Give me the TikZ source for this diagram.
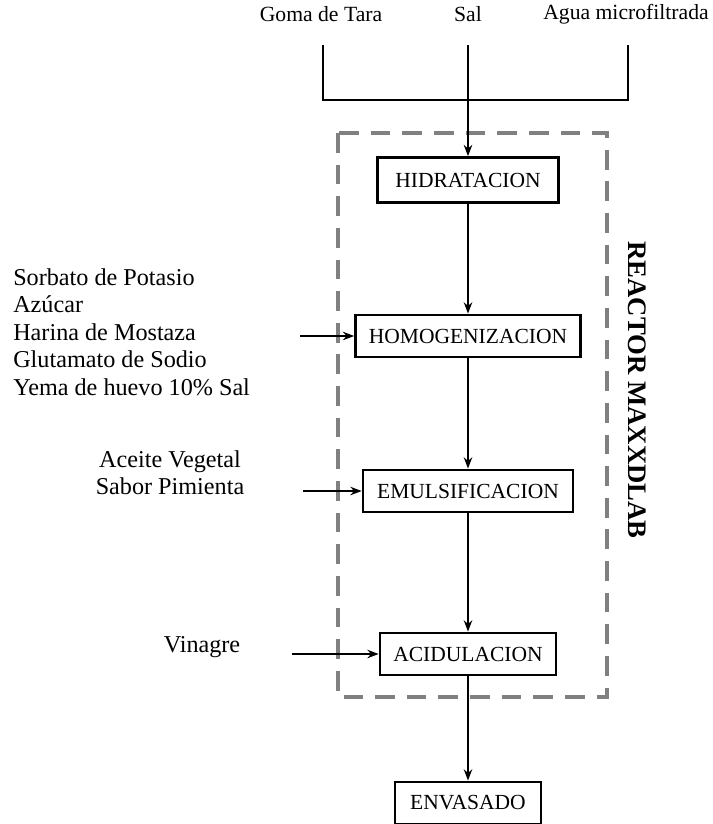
\documentclass[tikz,border=0pt]{standalone}
\usepackage{fontspec}
\setmainfont{Liberation Serif}
\usetikzlibrary{arrows.meta}

\begin{document}
\begin{tikzpicture}[x=0.025cm, y=-0.025cm,
    >={Stealth[length=8pt,width=6pt]},
    lbl/.style={font=\fontsize{17.2}{19.5}\selectfont, inner sep=0pt},
    toplbl/.style={font=\fontsize{15.4}{18}\selectfont, inner sep=0pt},
    proc/.style={draw, line width=1.9pt, inner xsep=2pt, minimum height=30pt,
                 font=\fontsize{15.3}{18}\selectfont},
    flow/.style={line width=1.3pt},
    reactorbox/.style={draw=black!50, line width=2.4pt, dash pattern=on 14pt off 8.5pt}]
      \useasboundingbox (0,0) rectangle (712,824);

      % --- reactor frame, drawn first so it sits behind the flow ---
      \draw[reactorbox] (338,133) rectangle (607,697);
      \node[font=\fontsize{19}{22}\selectfont\bfseries, rotate=-90] (reactor) at (637,390) {REACTOR MAXXDLAB};

      % --- raw materials on top ---
      \node[toplbl] (goma) at (321,14) {Goma de Tara};
      \node[toplbl] (sal)  at (468,14) {Sal};
      \node[toplbl] (agua) at (626,14) {Agua microfiltrada};
      \coordinate (gtop) at (323,45);
      \coordinate (gbot) at (323,100);
      \coordinate (stop) at (468,45);
      \coordinate (atop) at (628,45);
      \coordinate (abot) at (628,100);

      % --- process steps ---
      \node[proc, minimum width=128.7pt, minimum height=32pt] (hid) at (468,180) {HIDRATACION};
      \node[proc, minimum width=160pt] (hom) at (468,336) {HOMOGENIZACION};
      \node[proc, minimum width=149.4pt] (emu) at (468,491) {EMULSIFICACION};
      \node[proc, minimum width=125.2pt] (aci) at (468,654) {ACIDULACION};
      \node[proc, minimum width=103.9pt] (env) at (468,803) {ENVASADO};

      % --- side inputs ---
      \node[lbl, align=left, anchor=west] (aditivos) at (13,332)
        {Sorbato de Potasio\\Az\'ucar\\Harina de Mostaza\\Glutamato de Sodio\\Yema de huevo 10\% Sal};
      \node[lbl, align=center] (aceite) at (170,473) {Aceite Vegetal\\Sabor Pimienta};
      \node[lbl] (vinagre) at (202,647) {Vinagre};
      \coordinate (adin) at (300,336);
      \coordinate (acin) at (303,491);
      \coordinate (vin)  at (292,654);

      % --- connectors ---
      \draw[flow] (gtop) -- (gbot) -- (abot) -- (atop);
      \draw[flow, ->] (stop) -- (hid);
      \draw[flow, ->] (hid) -- (hom);
      \draw[flow, ->] (hom) -- (emu);
      \draw[flow, ->] (emu) -- (aci);
      \draw[flow, ->] (aci) -- (env);
      \draw[flow, ->] (adin) -- (hom);
      \draw[flow, ->] (acin) -- (emu);
      \draw[flow, ->] (vin) -- (aci);
    \end{tikzpicture}
\end{document}
